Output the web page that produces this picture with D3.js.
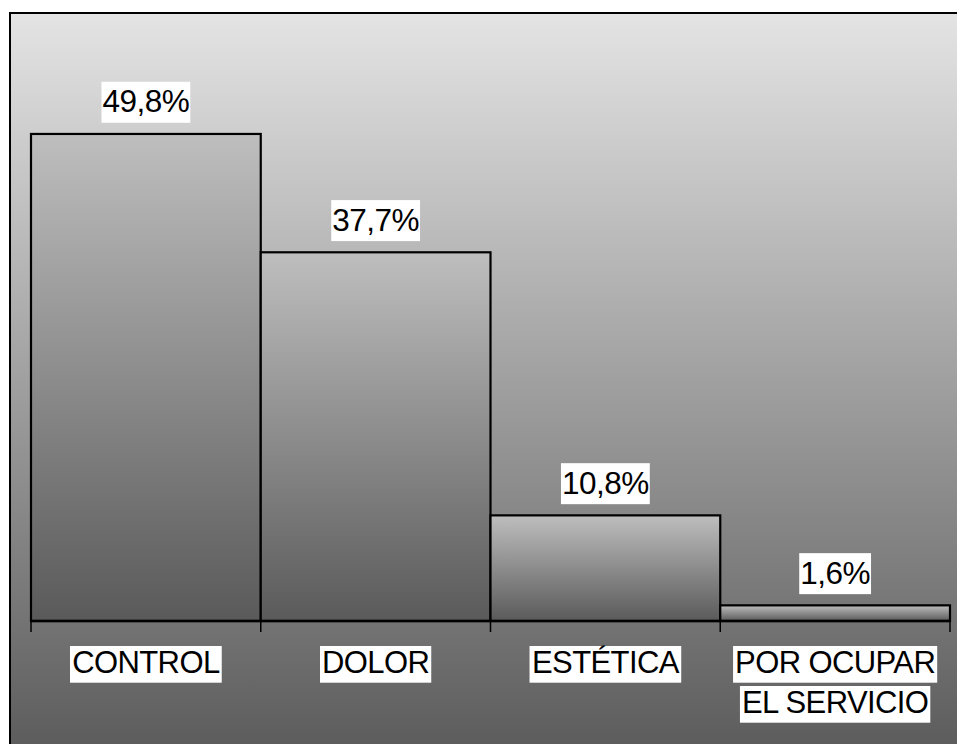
<!DOCTYPE html>
<html><head><meta charset="utf-8">
<script src="https://cdn.jsdelivr.net/npm/d3@7/dist/d3.min.js"></script>
<style>html,body{margin:0;padding:0;background:#fff;}svg{display:block;}</style>
</head><body>
<svg id="c" width="957" height="744"></svg>
<script>
const categories = [["CONTROL"], ["DOLOR"], ["ESTÉTICA"], ["POR OCUPAR", "EL SERVICIO"]];
const values = [49.8, 37.7, 10.8, 1.6];
const valueLabels = ["49,8%", "37,7%", "10,8%", "1,6%"];

const W = 957, H = 744;
const svg = d3.select("#c");
const defs = svg.append("defs");
const bg = defs.append("linearGradient").attr("id","bg").attr("x1",0).attr("y1",0).attr("x2",0).attr("y2",1);
bg.append("stop").attr("offset","0%").attr("stop-color","#e4e4e4");
bg.append("stop").attr("offset","100%").attr("stop-color","#5c5c5c");
const bar = defs.append("linearGradient").attr("id","bar").attr("x1",0).attr("y1",0).attr("x2",0).attr("y2",1);
bar.append("stop").attr("offset","0%").attr("stop-color","#bebebe");
bar.append("stop").attr("offset","100%").attr("stop-color","#5a5a5a");

// chart area
svg.append("rect").attr("x",10).attr("y",13).attr("width",W-10+5).attr("height",H-13+5)
  .attr("fill","url(#bg)").attr("stroke","#000").attr("stroke-width",2);

const left = 31, right = 950, base = 621;
const x = d3.scaleBand().domain(d3.range(values.length)).range([left, right]).padding(0);
const y = d3.scaleLinear().domain([0, 50]).range([base, base - 9.78*50]);

svg.selectAll("rect.bar").data(values).enter().append("rect").attr("class","bar")
  .attr("x",(d,i)=>x(i)).attr("y",d=>y(d)).attr("width",x.bandwidth()).attr("height",d=>base-y(d))
  .attr("fill","url(#bar)").attr("stroke","#000").attr("stroke-width",2.2);

// axis
const axis = d3.axisBottom(x).tickSize(0).tickFormat("");
const ag = svg.append("g").attr("transform",`translate(0,${base})`).call(axis);
ag.select(".domain").attr("stroke","#000").attr("stroke-width",2.5).attr("d",`M${left},0H${right}`);
const tickPos = x.domain().map(i=>x(i)).concat([right]);
ag.selectAll("line.t").data(tickPos).enter().append("line").attr("class","t")
  .attr("x1",d=>d).attr("x2",d=>d).attr("y1",0).attr("y2",11).attr("stroke","#000").attr("stroke-width",1.5);

const font = "'Liberation Sans', Arial, sans-serif";
function labelBox(g, cx, baseline, text, size, spacing, padX, top, bottom) {
  const t = g.append("text").attr("x",cx).attr("y",baseline).attr("text-anchor","middle")
    .attr("font-family",font).attr("font-size",size).attr("letter-spacing",spacing)
    .attr("fill","#000").text(text);
  const bb = t.node().getBBox();
  const w = bb.width;
  g.insert("rect", "text").attr("x",cx - w/2 - padX).attr("y",baseline - top)
    .attr("width",w + 2*padX).attr("height",top + bottom).attr("fill","#fff");
}

values.forEach((v,i)=>{
  const g = svg.append("g");
  const cx = x(i) + x.bandwidth()/2;
  labelBox(g, cx, y(v) - 21.5, valueLabels[i], 31.5, -0.5, 1, 30.7, 10.3);
});

categories.forEach((lines,i)=>{
  const cx = x(i) + x.bandwidth()/2;
  lines.forEach((ln,j)=>{
    const g = svg.append("g");
    labelBox(g, cx, base + 52.3 + j*40, ln, 31, -0.6, 2, 27.3, 9.4);
  });
});
</script>
</body></html>
